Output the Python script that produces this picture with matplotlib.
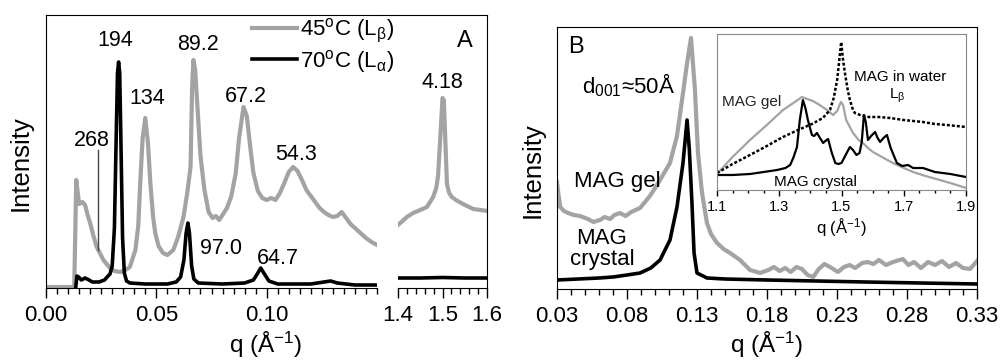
import matplotlib
matplotlib.use('Agg')
import matplotlib.pyplot as plt
from matplotlib.lines import Line2D
from matplotlib.ticker import MultipleLocator, FormatStrFormatter

plt.rcParams['font.family'] = ['Liberation Sans', 'DejaVu Sans']
plt.rcParams['mathtext.fontset'] = 'custom'
plt.rcParams['mathtext.rm'] = 'Liberation Sans'
plt.rcParams['mathtext.it'] = 'Liberation Sans:italic'
plt.rcParams['mathtext.bf'] = 'Liberation Sans:bold'

GRAY = '#a3a3a3'

# ---- panel A, small-angle part (q in 1/A, intensity in arbitrary units)
qa_45 = [0.000, 0.0128, 0.0133, 0.0137, 0.0150, 0.0165, 0.0177, 0.0190, 0.0200, 0.0215,
         0.0230, 0.0260, 0.0290, 0.0310, 0.0336, 0.0360, 0.0380, 0.0405, 0.0418, 0.0427,
         0.0438, 0.0450, 0.0462, 0.0473, 0.0485, 0.0495, 0.0510, 0.0530, 0.0550, 0.0577,
         0.0600, 0.0623, 0.0640, 0.0655, 0.0662, 0.0668, 0.0676, 0.0688, 0.0700, 0.0718,
         0.0737, 0.0755, 0.0770, 0.0785, 0.0800, 0.0820, 0.0840, 0.0860, 0.0875, 0.0895,
         0.0910, 0.0925, 0.0940, 0.0960, 0.0980, 0.1000, 0.1020, 0.1040, 0.1060, 0.1080,
         0.1100, 0.1120, 0.1140, 0.1160, 0.1180, 0.1200, 0.1220, 0.1240, 0.1260, 0.1280,
         0.1300, 0.1320, 0.1340, 0.1360, 0.1380, 0.1400, 0.1425, 0.1450, 0.1475, 0.1500]
ia_45 = [1, 1, 60, 108, 84, 86, 83, 72, 65, 52,
         41, 28, 20, 17, 16, 18, 21, 38, 62, 105,
         150, 170, 145, 105, 72, 55, 42, 35, 33, 38,
         52, 71, 95, 121, 200, 228, 218, 175, 132, 98,
         76, 70, 72, 68, 73, 80, 92, 115, 150, 181,
         172, 142, 115, 97, 90, 88, 90, 88, 95, 105,
         116, 121, 117, 108, 98, 92, 86, 80, 76, 73,
         71, 72, 76, 70, 64, 60, 55, 50, 46, 43]

qa_70 = [0.0135, 0.0140, 0.0148, 0.0160, 0.0177, 0.0195, 0.0210, 0.0240, 0.0265, 0.0277,
         0.0290, 0.0300, 0.0310, 0.0318, 0.0324, 0.0329, 0.0334, 0.0340, 0.0347, 0.0355,
         0.0365, 0.0380, 0.0450, 0.0550, 0.0590, 0.0610, 0.0625, 0.0635, 0.0643, 0.0650,
         0.0660, 0.0670, 0.0690, 0.0800, 0.0900, 0.0940, 0.0960, 0.0973, 0.0990, 0.1010,
         0.1050, 0.1200, 0.1260, 0.1290, 0.1320, 0.1400, 0.1500]
ia_70 = [1, 12, 11, 8, 10, 8, 6, 6, 8, 11,
         14, 22, 60, 150, 215, 226, 215, 140, 50, 15,
         7, 5, 4, 4, 6, 11, 28, 55, 65, 55,
         22, 9, 5, 4, 5, 8, 15, 20, 14, 7,
         4, 4, 6, 7, 5, 3, 3]

# ---- panel A, wide-angle part
qw_45 = [1.400, 1.410, 1.420, 1.434, 1.450, 1.465, 1.479, 1.486, 1.490, 1.495,
         1.500, 1.503, 1.507, 1.510, 1.515, 1.521, 1.530, 1.546, 1.569, 1.585, 1.600]
iw_45 = [63, 67, 71, 75, 78, 81, 91, 100, 112, 150,
         190, 188, 140, 104, 95, 91, 88, 84, 79, 78, 77]
qw_70 = [1.40, 1.45, 1.50, 1.55, 1.60]
iw_70 = [10, 10, 10.5, 10, 10]

# ---- panel B
qb_gel = [0.0300, 0.0310, 0.0323, 0.0350, 0.0380, 0.0420, 0.0465, 0.0520, 0.0560, 0.0607,
          0.0640, 0.0680, 0.0710, 0.0750, 0.0790, 0.0830, 0.0893, 0.0964, 0.1036, 0.1107,
          0.1157, 0.1200, 0.1229, 0.1257, 0.1285, 0.1307, 0.1336, 0.1371, 0.1400, 0.1443,
          0.1490, 0.1536, 0.1607, 0.1679, 0.1750, 0.1770, 0.1810, 0.1850, 0.1890, 0.1930,
          0.1970, 0.2010, 0.2050, 0.2090, 0.2130, 0.2170, 0.2210, 0.2250, 0.2307, 0.2350,
          0.2390, 0.2430, 0.2480, 0.2520, 0.2560, 0.2600, 0.2650, 0.2700, 0.2770, 0.2810,
          0.2850, 0.2900, 0.2950, 0.3000, 0.3050, 0.3100, 0.3150, 0.3200, 0.3250, 0.3300]
ib_gel = [107, 95, 82, 78, 76, 74, 73, 70, 67, 69,
          72, 70, 74, 76, 73, 77, 81, 93, 109, 126,
          153, 196, 226, 251, 200, 136, 96, 66, 55, 46,
          40, 36, 29, 19, 16, 17, 19, 22, 18, 21,
          17, 22, 20, 14, 12, 20, 25, 22, 17, 22,
          24, 21, 26, 27, 25, 29, 24, 27, 30, 24,
          27, 21, 27, 24, 28, 22, 26, 21, 20, 28]

qb_cry = [0.030, 0.045, 0.060, 0.070, 0.080, 0.0893, 0.0970, 0.1036, 0.1107, 0.1157,
          0.1200, 0.1229, 0.1245, 0.1264, 0.1279, 0.1300, 0.1371, 0.1500, 0.1800, 0.2500, 0.3300]
ib_cry = [9, 10, 11, 12, 14, 16, 21, 29, 49, 82,
          126, 169, 140, 86, 36, 16, 11, 10, 9, 7, 5]

# ---- inset of panel B (wide angle)
qi_gel = [1.100, 1.150, 1.206, 1.260, 1.312, 1.350, 1.373, 1.390, 1.408, 1.430,
          1.453, 1.473, 1.486, 1.498, 1.505, 1.515, 1.537, 1.555, 1.569, 1.585,
          1.601, 1.630, 1.665, 1.700, 1.730, 1.770, 1.816, 1.860, 1.900]
ii_gel = [16, 33, 50, 65, 80, 88, 93, 91, 89, 85,
          80, 75, 79, 88, 85, 70, 57, 50, 47, 42,
          38, 33, 27, 22, 18, 14, 10, 6, 2]

qi_cry = [1.100, 1.150, 1.206, 1.250, 1.293, 1.320, 1.335, 1.345, 1.357, 1.366,
          1.376, 1.384, 1.392, 1.405, 1.412, 1.421, 1.431, 1.441, 1.448, 1.457,
          1.468, 1.480, 1.490, 1.500, 1.515, 1.527, 1.537, 1.548, 1.558, 1.565,
          1.572, 1.578, 1.585, 1.595, 1.608, 1.616, 1.624, 1.635, 1.646, 1.658,
          1.678, 1.695, 1.714, 1.730, 1.762, 1.800, 1.850, 1.900]
ii_cry = [15, 15, 16, 18, 20, 22, 25, 32, 43, 70,
          90, 82, 70, 55, 54, 57, 52, 47, 49, 51,
          38, 27, 26, 27, 36, 43, 40, 35, 37, 48,
          75, 68, 50, 54, 58, 52, 48, 52, 55, 42,
          27, 24, 25, 22, 22, 18, 16, 13]

qi_wat = [1.100, 1.150, 1.206, 1.260, 1.312, 1.360, 1.405, 1.440, 1.463, 1.475,
          1.486, 1.493, 1.499, 1.505, 1.511, 1.520, 1.527, 1.537, 1.543, 1.560,
          1.582, 1.620, 1.656, 1.700, 1.762, 1.800, 1.839, 1.900]
ii_wat = [17, 26, 35, 44, 53, 60, 66, 72, 80, 92,
          110, 130, 148, 130, 117, 100, 90, 80, 77, 75,
          73, 73, 72, 70, 68, 66, 65, 63]

ticks_a1 = [0.00, 0.05, 0.10]
ticks_a2 = [1.4, 1.5, 1.6]
ticks_b = [0.03, 0.08, 0.13, 0.18, 0.23, 0.28, 0.33]
ticks_ins = [1.1, 1.3, 1.5, 1.7, 1.9]

W, H = 1000, 363
fig = plt.figure(figsize=(W / 100, H / 100), dpi=100)


def px_axes(x0, y0, x1, y1):
    # axes rectangle given in pixel coords (top-left origin)
    return fig.add_axes([x0 / W, 1 - y1 / H, (x1 - x0) / W, (y1 - y0) / H])


def style_ticks(ax, size=16, major=7, minor=4, pad=5):
    ax.tick_params(axis='x', which='major', direction='out', length=major, width=1,
                   labelsize=size, pad=pad, top=False)
    ax.tick_params(axis='x', which='minor', direction='out', length=minor, width=1, top=False)
    ax.tick_params(axis='y', which='both', left=False, right=False, labelleft=False)


def q_label(ax, x, y, size=17.5):
    ax.set_xlabel(r'q (Å$^{\mathregular{-1}}$)', fontsize=size)
    ax.xaxis.label.set_va('center')
    ax.xaxis.set_label_coords(x, y)


# ---------------- panel A ----------------
a1 = px_axes(46, 15, 377, 288)
a2 = px_axes(398, 15, 487, 288)

a1.plot(qa_45, ia_45, color=GRAY, lw=3, label=r'45$^\mathregular{o}$C (L$_\mathregular{β}$)')
a1.plot(qa_70, ia_70, color='k', lw=2.6, label=r'70$^\mathregular{o}$C (L$_\mathregular{α}$)')
a1.plot([0.0236, 0.0236], [38, 138], color='#444444', lw=1)
a1.set_xlim(0, 0.15)
a1.set_ylim(0, 273)
a1.set_xticks(ticks_a1)
a1.xaxis.set_minor_locator(MultipleLocator(0.005))
a1.xaxis.set_major_formatter(FormatStrFormatter('%.2f'))
a1.spines['right'].set_visible(False)
style_ticks(a1)

a2.plot(qw_45, iw_45, color=GRAY, lw=3)
a2.plot(qw_70, iw_70, color='k', lw=2.6)
a2.set_xlim(1.4, 1.6)
a2.set_ylim(0, 273)
a2.set_xticks(ticks_a2)
a2.xaxis.set_minor_locator(MultipleLocator(0.02))
a2.xaxis.set_major_formatter(FormatStrFormatter('%.1f'))
a2.spines['left'].set_visible(False)
style_ticks(a2)

# top frame line across the axis break
fig.add_artist(Line2D([377 / W, 398 / W], [1 - 15 / H, 1 - 15 / H],
                      transform=fig.transFigure, color='k', lw=0.8))

for x, y, s in [(0.0314, 248, '194'), (0.0690, 244, '89.2'), (0.0459, 189, '134'),
                (0.0209, 148, '268'), (0.0905, 192, '67.2'), (0.1132, 134, '54.3'),
                (0.0791, 39, '97.0'), (0.1050, 30, '64.7')]:
    a1.text(x, y, s, fontsize=15.5, ha='center', va='center')
a2.text(1.50, 205, '4.18', fontsize=15.5, ha='center', va='center')
a2.text(1.55, 247, 'A', fontsize=17, ha='center', va='center')

a1.legend(loc='upper left', bbox_to_anchor=(0.616, 1.0), frameon=False, fontsize=16,
          handlelength=2.0, handletextpad=0.15, borderaxespad=0, borderpad=0.1,
          labelspacing=0.1)

a1.set_ylabel('Intensity', fontsize=18.5)
a1.yaxis.set_label_coords(-0.039, 0.458)
q_label(a1, (266 - 46) / 331, (288 - 345) / 273)

# ---------------- panel B ----------------
b = px_axes(557, 27, 977, 289)
b.plot(qb_gel, ib_gel, color=GRAY, lw=3)
b.plot(qb_cry, ib_cry, color='k', lw=2.6)
b.set_xlim(0.03, 0.33)
b.set_ylim(0, 262)
b.set_xticks(ticks_b)
b.xaxis.set_minor_locator(MultipleLocator(0.01))
b.xaxis.set_major_formatter(FormatStrFormatter('%.2f'))
style_ticks(b)
b.text(0.0436, 242, 'B', fontsize=17, ha='center', va='center')
b.text(0.0814, 204, r'd$_\mathregular{001}$≈50Å', fontsize=16, ha='center', va='center')
b.text(0.0729, 108, 'MAG gel', fontsize=16, ha='center', va='center')
b.text(0.0621, 40, 'MAG\ncrystal', fontsize=16, ha='center', va='center', linespacing=1.0)
b.set_ylabel('Intensity', fontsize=18.5)
b.yaxis.set_label_coords(-0.029, 0.454)
q_label(b, 0.5, (289 - 345) / 262)

# inset
ins = px_axes(717, 34, 966, 190)
ins.plot(qi_gel, ii_gel, color=GRAY, lw=1.6)
ins.plot(qi_wat, ii_wat, color='k', lw=1.8, ls=(0, (1.2, 0.8)))
ins.plot(qi_cry, ii_cry, color='k', lw=1.6)
ins.set_xlim(1.1, 1.9)
ins.set_ylim(0, 156)
ins.set_xticks(ticks_ins)
ins.xaxis.set_minor_locator(MultipleLocator(0.05))
ins.xaxis.set_major_formatter(FormatStrFormatter('%.1f'))
style_ticks(ins, size=10.5, major=4, minor=2.5, pad=3)
for sp in ins.spines.values():
    sp.set_color('#888888')
ins.text(1.212, 88, 'MAG gel', fontsize=11, ha='center', va='center', color='#222222')
ins.text(1.688, 113, 'MAG in water', fontsize=11, ha='center', va='center')
ins.text(1.678, 94, r'L$_\mathregular{β}$', fontsize=11, ha='center', va='center')
ins.text(1.415, 8, 'MAG crystal', fontsize=11, ha='center', va='center')
ins.set_xlabel(r'q (Å$^{\mathregular{-1}}$)', fontsize=12, labelpad=2)

fig.savefig('out.png', dpi=100)
